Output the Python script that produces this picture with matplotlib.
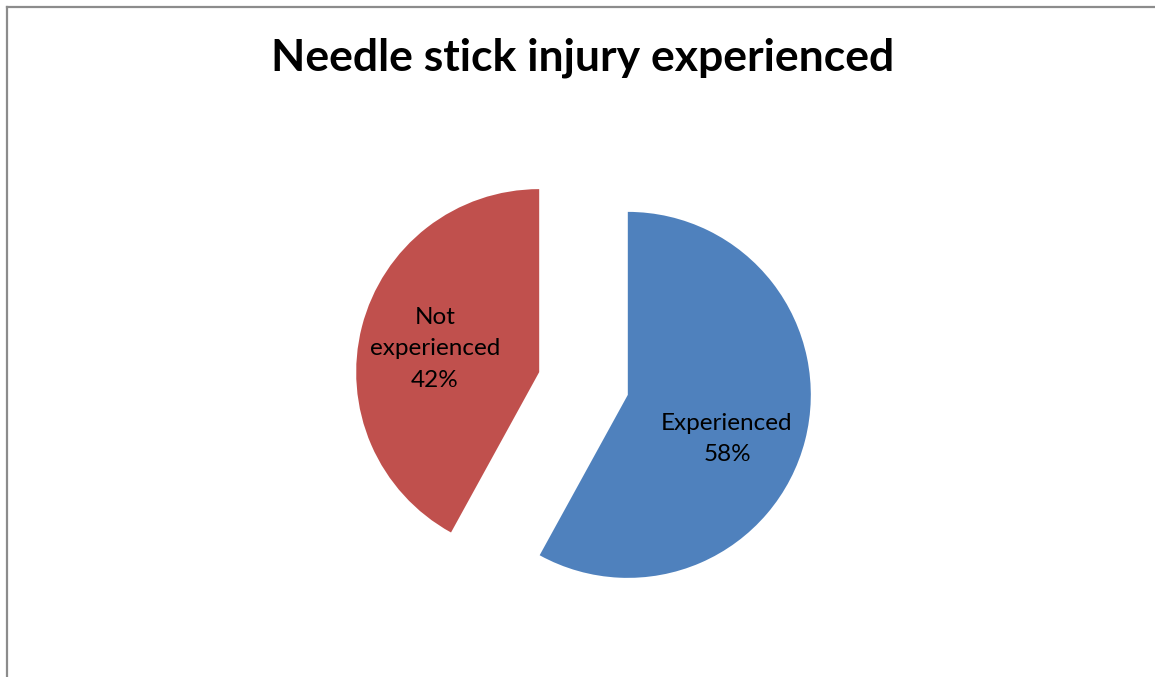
import matplotlib
matplotlib.use("Agg")
import matplotlib.pyplot as plt
from matplotlib.lines import Line2D

categories = ["Experienced", "Not experienced"]
label_lines = ["Experienced", "Not\nexperienced"]
shares = [58, 42]
colors = ["#4F81BD", "#C0504D"]
title = "Needle stick injury experienced"

W, H = 1155, 677
fig = plt.figure(figsize=(W / 100, H / 100), dpi=100)
fig.patch.set_facecolor("white")

# chart frame (top and left edges visible)
fig.add_artist(Line2D([7 / W, 7 / W], [0, 1 - 7 / H], transform=fig.transFigure,
                      color="#8c8c8c", lw=1.6))
fig.add_artist(Line2D([7 / W, 1], [1 - 7 / H, 1 - 7 / H], transform=fig.transFigure,
                      color="#8c8c8c", lw=1.6))

# pie axes: centre at (583.5, 383.5) px, radius 183 px
r_px = 183
cx, cy = 583.5, H - 383.5
half = 1.5 * r_px
ax = fig.add_axes([(cx - half) / W, (cy - half) / H, 2 * half / W, 2 * half / H])

ax.pie(shares, colors=colors, startangle=90, counterclock=False,
       explode=[0.25, 0.25], radius=1.0,
       wedgeprops=dict(linewidth=0))
ax.set_xlim(-1.5, 1.5)
ax.set_ylim(-1.5, 1.5)
ax.set_aspect("equal")
ax.axis("off")

label_pos = [(0.784, -0.305), (-0.811, 0.189)]
for txt, val, (x, y) in zip(label_lines, shares, label_pos):
    ax.text(x, y, f"{txt}\n{val}%", ha="center", va="center",
            fontsize=17.5, family="Lato", linespacing=1.6, color="black")

fig.text(583 / W, 1 - 58 / H, title, ha="center", va="center",
         fontsize=32, fontweight="bold", family="Lato", color="black")

fig.savefig("out.png", dpi=100, facecolor="white")
